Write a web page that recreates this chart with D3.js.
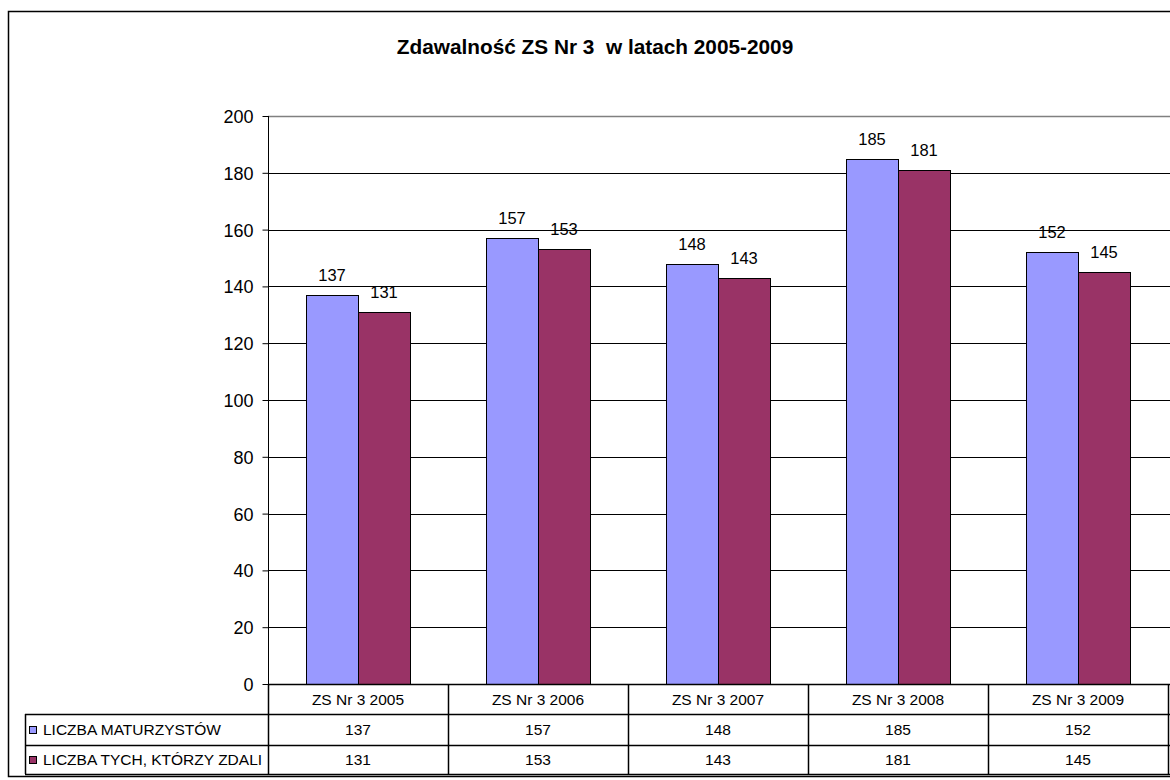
<!DOCTYPE html>
<html>
<head>
<meta charset="utf-8">
<script src="https://cdn.jsdelivr.net/npm/d3@7"></script>
<style>
  body { margin: 0; background: #fff; }
  svg text { font-family: Arial, "Liberation Sans", sans-serif; fill: #000; }
</style>
</head>
<body>
<svg id="chart" width="1170" height="780"></svg>
<script>
var chartTitle = 'Zdawalność ZS Nr 3  w latach 2005-2009';
var categories = ['ZS Nr 3 2005', 'ZS Nr 3 2006', 'ZS Nr 3 2007', 'ZS Nr 3 2008', 'ZS Nr 3 2009'];
var seriesNames = ['LICZBA MATURZYSTÓW', 'LICZBA TYCH, KTÓRZY ZDALI'];
var maturzysci = [137, 157, 148, 185, 152];
var zdali      = [131, 153, 143, 181, 145];
var seriesColors = ['#9999FF', '#993366'];
var yTicks = [0, 20, 40, 60, 80, 100, 120, 140, 160, 180, 200];

var allSeries = [maturzysci, zdali];

var svg = d3.select('#chart');
svg.append('rect').attr('width', 1170).attr('height', 780).attr('fill', '#fff');

// outer chart border (runs off the right edge like the original)
svg.append('rect')
	.attr('x', 8.5).attr('y', 11.5)
	.attr('width', 1200).attr('height', 765)
	.attr('fill', 'none').attr('stroke', '#000').attr('stroke-width', 1.5);

var plotLeft = 268, plotRight = 1168, plotTop = 116, plotBottom = 684;
var rowY = [684, 714, 745, 774];
var legendLeft = 25;

var y = d3.scaleLinear().domain([0, 200]).range([plotBottom, plotTop]);
var x = d3.scaleBand().domain(categories).range([plotLeft, plotRight]).padding(0);
var xSub = d3.scaleBand().domain(d3.range(seriesNames.length)).range([0, x.bandwidth()]).paddingOuter(0.73).paddingInner(0);

// title
svg.append('text')
	.attr('x', 595).attr('y', 54)
	.attr('text-anchor', 'middle')
	.style('font-size', '20.8px').style('font-weight', 'bold')
	.attr('xml:space', 'preserve')
	.text(chartTitle);

// gridlines
svg.append('g').selectAll('line')
	.data(yTicks.filter(function(d){ return d > 0; }))
	.enter().append('line')
	.attr('x1', plotLeft).attr('x2', 1200)
	.attr('y1', function(d){ return Math.round(y(d)) + 0.5; })
	.attr('y2', function(d){ return Math.round(y(d)) + 0.5; })
	.attr('stroke', function(d){ return d == 200 ? '#808080' : '#000'; })
	.attr('stroke-width', function(d){ return d == 200 ? 1.5 : 1; });

// y axis
var yAxis = svg.append('g')
	.attr('transform', 'translate(' + (plotLeft + 0.5) + ',0)')
	.call(d3.axisLeft(y).tickValues(yTicks).tickSize(6).tickPadding(9).tickFormat(d3.format('d')));
yAxis.select('.domain').attr('stroke', '#000').attr('d', 'M0,' + plotTop + 'V' + plotBottom);
yAxis.selectAll('.tick line').attr('stroke', '#000');
yAxis.selectAll('.tick text').style('font-size', '18px').attr('dy', '0.36em')
	.style('font-family', 'Arial, "Liberation Sans", sans-serif');

// bars
var groups = svg.append('g').selectAll('g')
	.data(allSeries).enter().append('g');

groups.each(function(vals, si) {
	var g = d3.select(this);
	g.selectAll('rect').data(vals).enter().append('rect')
		.attr('x', function(d, i){ return Math.round(x(categories[i]) + xSub(si)) + 0.5; })
		.attr('y', function(d){ return Math.round(y(d)) + 0.5; })
		.attr('width', Math.round(xSub.bandwidth()))
		.attr('height', function(d){ return plotBottom - Math.round(y(d)); })
		.attr('fill', seriesColors[si])
		.attr('stroke', '#000').attr('stroke-width', 1);
	g.selectAll('text').data(vals).enter().append('text')
		.attr('x', function(d, i){ return x(categories[i]) + xSub(si) + xSub.bandwidth() / 2; })
		.attr('y', function(d){ return y(d) - 14; })
		.attr('text-anchor', 'middle')
		.style('font-size', '16.5px')
		.text(function(d){ return d; });
});

// x axis line
svg.append('line')
	.attr('x1', plotLeft).attr('x2', 1200)
	.attr('y1', plotBottom + 0.5).attr('y2', plotBottom + 0.5)
	.attr('stroke', '#000').attr('stroke-width', 1.5);

// data table
var table = svg.append('g');
table.selectAll('line.h')
	.data(rowY.slice(1)).enter().append('line')
	.attr('x1', legendLeft).attr('x2', 1200)
	.attr('y1', function(d){ return d + 0.5; }).attr('y2', function(d){ return d + 0.5; })
	.attr('stroke', '#000').attr('stroke-width', 1.5);

var colEdges = categories.map(function(c){ return x(c); }).concat([plotRight]);
table.selectAll('line.v')
	.data(colEdges).enter().append('line')
	.attr('x1', function(d){ return d + 0.5; }).attr('x2', function(d){ return d + 0.5; })
	.attr('y1', rowY[0]).attr('y2', rowY[3])
	.attr('stroke', '#000').attr('stroke-width', 1.5);

table.append('line')
	.attr('x1', legendLeft + 0.5).attr('x2', legendLeft + 0.5)
	.attr('y1', rowY[1]).attr('y2', rowY[3])
	.attr('stroke', '#000').attr('stroke-width', 1.5);

// category labels
table.selectAll('text.cat')
	.data(categories).enter().append('text')
	.attr('x', function(d){ return x(d) + x.bandwidth() / 2; })
	.attr('y', (rowY[0] + rowY[1]) / 2)
	.attr('dy', '0.36em')
	.attr('text-anchor', 'middle')
	.style('font-size', '15.5px')
	.text(function(d){ return d; });

// value rows + legend cells
allSeries.forEach(function(vals, si) {
	var cy = (rowY[si + 1] + rowY[si + 2]) / 2;
	table.append('rect')
		.attr('x', legendLeft + 4.5).attr('y', Math.round(cy - 4) + 0.5)
		.attr('width', 7).attr('height', 7)
		.attr('fill', seriesColors[si]).attr('stroke', '#000').attr('stroke-width', 1);
	table.append('text')
		.attr('x', legendLeft + 18).attr('y', cy).attr('dy', '0.36em')
		.style('font-size', '15.5px')
		.text(seriesNames[si]);
	table.selectAll('text.v' + si)
		.data(vals).enter().append('text')
		.attr('x', function(d, i){ return x(categories[i]) + x.bandwidth() / 2; })
		.attr('y', cy).attr('dy', '0.36em')
		.attr('text-anchor', 'middle')
		.style('font-size', '15.5px')
		.text(function(d){ return d; });
});
</script>
</body>
</html>
